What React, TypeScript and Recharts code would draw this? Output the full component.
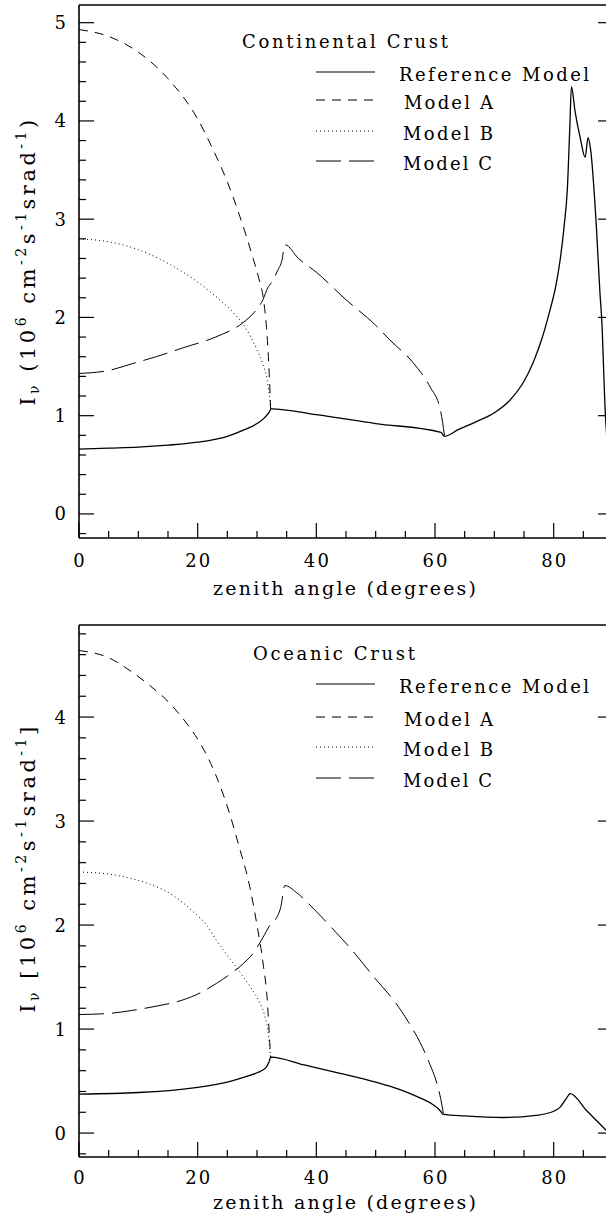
import React from 'react';
import { LineChart, Line, XAxis, YAxis, Legend } from 'recharts';

const FONT = '"DejaVu Serif", "Liberation Serif", serif';

// axis ticks
const xTicks = [0, 5, 10, 15, 20, 25, 30, 35, 40, 45, 50, 55, 60, 65, 70, 75, 80, 85, 90];
const xLabelTicks = [0, 20, 40, 60, 80];
const contYTicks = Array.from({ length: 27 }, (_, i) => Math.round((i - 1) * 2) / 10); // -0.2 .. 5.0
const oceanYTicks = Array.from({ length: 26 }, (_, i) => Math.round((i - 1) * 2) / 10); // -0.2 .. 4.8

const seriesNames = ['Reference Model', 'Model A', 'Model B', 'Model C'];
const seriesDash = ['', '9 7', '1 3', '25 8'];
const legendLabelX = [399, 404, 403, 403];
const legendLabelW = [190, 89, 90, 89];

// continental crust  [zenith angle, intensity]
const contRef = [
  [0, 0.66], [5, 0.67], [10, 0.68], [15, 0.7], [20, 0.73], [25, 0.79], [28, 0.86], [30, 0.92],
  [31.3, 0.98], [32, 1.03], [32.4, 1.07], [40, 1.01], [50, 0.92], [61, 0.83], [61.6, 0.79],
  [64, 0.86], [67, 0.94], [70, 1.03], [72.5, 1.15], [75, 1.35], [76.6, 1.55], [78, 1.78],
  [79.4, 2.08], [80.3, 2.3], [81.1, 2.59], [81.8, 2.95], [82.3, 3.3], [82.7, 3.9], [83, 4.35],
  [83.6, 4.1], [84.5, 3.82], [85.3, 3.63], [85.8, 3.83], [86.2, 3.72], [87.2, 2.92], [87.8, 2.25],
  [88.1, 1.98], [88.7, 1.03], [89.3, 0.55], [90, 0.2],
];
const contA = [
  [0, 4.93], [5, 4.86], [10, 4.7], [15, 4.43], [20, 4.02], [22.5, 3.72], [25, 3.38], [27.1, 3.03],
  [29.4, 2.59], [30.3, 2.4], [31.1, 2.18], [31.6, 1.9], [32, 1.5], [32.3, 1.07],
];
const contB = [
  [0, 2.8], [5, 2.77], [10, 2.69], [15, 2.55], [20, 2.36], [23.5, 2.19], [26, 2.05], [28, 1.9],
  [30, 1.67], [31, 1.52], [31.7, 1.37], [32.1, 1.2], [32.3, 1.07],
];
const contC = [
  [0, 1.43], [5, 1.46], [9, 1.53], [13, 1.6], [17.5, 1.69], [23, 1.8], [27.5, 1.94], [29.5, 2.05],
  [31, 2.18], [31.8, 2.3], [32.5, 2.36], [33.5, 2.48], [34.2, 2.58], [34.7, 2.74], [37, 2.6],
  [40, 2.46], [45, 2.18], [50, 1.92], [52.4, 1.77], [56.3, 1.54], [59.2, 1.29], [60.9, 1.06], [61.6, 0.8],
];

// oceanic crust
const oceanRef = [
  [0, 0.375], [10, 0.39], [20, 0.44], [25, 0.49], [28, 0.54], [30, 0.58], [31.5, 0.63], [32, 0.68],
  [32.3, 0.73], [38, 0.655], [44, 0.575], [50, 0.49], [54, 0.42], [57, 0.35], [59.5, 0.28],
  [60.8, 0.22], [61.4, 0.18], [65, 0.165], [71.5, 0.15], [77, 0.17], [80, 0.21], [81.1, 0.25],
  [82.1, 0.33], [82.8, 0.38], [85.5, 0.22], [88.8, 0.03], [90, -0.04],
];
const oceanA = [
  [0, 4.64], [5, 4.57], [9, 4.43], [12, 4.3], [15, 4.15], [18, 3.95], [20.4, 3.75], [23, 3.45],
  [25.5, 3.05], [27, 2.75], [28.5, 2.44], [30, 2.0], [31.1, 1.6], [31.7, 1.3], [32, 1.02], [32.3, 0.73],
];
const oceanB = [
  [0, 2.51], [5, 2.49], [10, 2.43], [13, 2.37], [16, 2.28], [19, 2.14], [21.5, 2.0], [23.2, 1.85],
  [25.5, 1.67], [27.7, 1.5], [29.5, 1.35], [30.5, 1.25], [31.3, 1.13], [31.8, 1.0], [32.1, 0.85], [32.3, 0.73],
];
const oceanC = [
  [0, 1.14], [5, 1.15], [9, 1.18], [13, 1.22], [17.5, 1.28], [20.5, 1.35], [23.2, 1.44], [25.5, 1.53],
  [27.7, 1.63], [29.5, 1.74], [31, 1.88], [32.2, 2.0], [33.3, 2.07], [34, 2.17], [34.7, 2.38],
  [36.7, 2.31], [40, 2.13], [43.3, 1.93], [45.7, 1.78], [50, 1.48], [53, 1.28], [55.5, 1.07],
  [57.5, 0.87], [59, 0.68], [60.3, 0.48], [61, 0.32], [61.4, 0.19],
];

const toPts = (a: number[][]) => a.map(([x, y]) => ({ x, y }));

const isMajorY = (v: number) => Math.abs(v - Math.round(v)) < 1e-6;

// ticks drawn inward, like the original box
const BottomTick = (p: any) => {
  const v = p.payload.value;
  const major = xLabelTicks.includes(v);
  return (
    <g>
      <line x1={p.x} x2={p.x} y1={p.y} y2={p.y - (major ? 15 : 7)} stroke="#000" strokeWidth={1.2} />
      {major && (
        <text x={p.x} y={p.y + p.labelDy} textAnchor="middle" fontFamily={FONT} fontSize={18} fill="#000"
          textLength={v === 0 ? 10 : 25} lengthAdjust="spacing">{v}</text>
      )}
    </g>
  );
};
const TopTick = (p: any) => {
  const major = xLabelTicks.includes(p.payload.value);
  return <line x1={p.x} x2={p.x} y1={p.y} y2={p.y + (major ? 15 : 7)} stroke="#000" strokeWidth={1.2} />;
};
const LeftTick = (p: any) => {
  const v = p.payload.value;
  const major = isMajorY(v);
  return (
    <g>
      <line x1={p.x} x2={p.x + (major ? 15 : 7)} y1={p.y} y2={p.y} stroke="#000" strokeWidth={1.2} />
      {major && (
        <text x={p.x - 13} y={p.y + 6.5} textAnchor="end" fontFamily={FONT} fontSize={18} fill="#000">
          {Math.round(v)}
        </text>
      )}
    </g>
  );
};
const RightTick = (p: any) => {
  const major = isMajorY(p.payload.value);
  return <line x1={p.x} x2={p.x - (major ? 15 : 7)} y1={p.y} y2={p.y} stroke="#000" strokeWidth={1.2} />;
};

const YTitle = ({ cy, open, close }: any) => (
  <text transform={`translate(35,${cy}) rotate(-90)`} textAnchor="middle" fontFamily={FONT}
    fontSize={21} letterSpacing={3.5} fill="#000">
    <tspan>I</tspan>
    <tspan fontSize={14} dy={4}>ν</tspan>
    <tspan dy={-4}>{` ${open}10`}</tspan>
    <tspan fontSize={14} dy={-9}>6</tspan>
    <tspan dy={9}> cm</tspan>
    <tspan fontSize={14} dy={-9}>-2</tspan>
    <tspan dy={9}>s</tspan>
    <tspan fontSize={14} dy={-9}>-1</tspan>
    <tspan dy={9}>srad</tspan>
    <tspan fontSize={14} dy={-9}>-1</tspan>
    <tspan dy={9}>{close}</tspan>
  </text>
);

const XTitle = ({ ty }: any) => (
  <text x={344.5} y={ty} textAnchor="middle" fontFamily={FONT}
    fontSize={19} fill="#000" textLength={263} lengthAdjust="spacing">
    zenith angle (degrees)
  </text>
);

const LegendBox = ({ title, titleX, titleW, rows }: any) => (
  <svg width={640} height={200} style={{ display: 'block' }}>
    <text x={titleX} y={48} fontFamily={FONT} fontSize={18} fill="#000" textLength={titleW} lengthAdjust="spacing">
      {title}
    </text>
    {seriesNames.map((n, i) => (
      <g key={n}>
        <line x1={316} x2={375} y1={rows[i]} y2={rows[i]} stroke="#000" strokeWidth={1}
          strokeDasharray={seriesDash[i] || undefined} />
        <text x={legendLabelX[i]} y={rows[i] + 9} fontFamily={FONT} fontSize={18} fill="#000"
          textLength={legendLabelW[i]} lengthAdjust="spacing">{n}</text>
      </g>
    ))}
  </svg>
);

interface PanelProps {
  title: string;
  titleX: number;
  titleW: number;
  yDomain: [number, number];
  yTicks: number[];
  series: number[][][];
  height: number;
  marginTop: number;
  bottomAxisHeight: number;
  legendRows: number[];
  yTitleCy: number;
  xTitleY: number;
  tickLabelDy: number;
  brackets: [string, string];
}

const Panel: React.FC<PanelProps> = (p) => (
  <LineChart width={640} height={p.height} margin={{ top: p.marginTop, right: 26, bottom: 0, left: 0 }}>
    <XAxis dataKey="x" type="number" domain={[0, 90]} ticks={xTicks} interval={0} allowDataOverflow
      height={p.bottomAxisHeight} tickSize={0} tickMargin={0} tickLine={false}
      axisLine={{ stroke: '#000', strokeWidth: 1.6 }}
      tick={(t: any) => <BottomTick {...t} labelDy={p.tickLabelDy} />}
      label={<XTitle ty={p.xTitleY} />} />
    <XAxis xAxisId="top" orientation="top" type="number" domain={[0, 90]} ticks={xTicks} interval={0}
      allowDataOverflow height={1} tickSize={0} tickMargin={0} tickLine={false}
      axisLine={{ stroke: '#000', strokeWidth: 1.6 }} tick={(t: any) => <TopTick {...t} />} />
    <YAxis type="number" domain={p.yDomain} ticks={p.yTicks} interval={0} allowDataOverflow width={79}
      tickSize={0} tickMargin={0} tickLine={false} axisLine={{ stroke: '#000', strokeWidth: 1.6 }}
      tick={(t: any) => <LeftTick {...t} />}
      label={<YTitle cy={p.yTitleCy} open={p.brackets[0]} close={p.brackets[1]} />} />
    <YAxis yAxisId="right" orientation="right" type="number" domain={p.yDomain} ticks={p.yTicks}
      interval={0} allowDataOverflow width={1} tickSize={0} tickMargin={0} tickLine={false}
      axisLine={{ stroke: '#000', strokeWidth: 1.6 }} tick={(t: any) => <RightTick {...t} />} />
    <Legend layout="horizontal" verticalAlign="middle" align="center" wrapperStyle={{ left: 0, top: 0 }}
      content={() => <LegendBox title={p.title} titleX={p.titleX} titleW={p.titleW} rows={p.legendRows} />} />
    {p.series.map((s, i) => (
      <Line key={seriesNames[i]} name={seriesNames[i]} data={toPts(s)} dataKey="y" type="monotone"
        stroke="#000" strokeWidth={i === 0 ? 1.3 : 1} strokeDasharray={seriesDash[i] || undefined}
        dot={false} activeDot={false} isAnimationActive={false} />
    ))}
  </LineChart>
);

export default function App() {
  return (
    <div style={{ position: 'absolute', left: 0, top: 0, width: 606, height: 1225, overflow: 'hidden', background: '#fff' }}>
      <Panel title="Continental Crust" titleX={242} titleW={206} yDomain={[-0.245, 5.18]} yTicks={contYTicks}
        series={[contRef, contA, contB, contC]} height={612} marginTop={4} bottomAxisHeight={74}
        legendRows={[72, 100, 131, 161]} yTitleCy={261} xTitleY={595} tickLabelDy={29} brackets={['(', ')']} />
      <Panel title="Oceanic Crust" titleX={253} titleW={162} yDomain={[-0.23, 4.885]} yTicks={oceanYTicks}
        series={[oceanRef, oceanA, oceanB, oceanC]} height={613} marginTop={12} bottomAxisHeight={68}
        legendRows={[72, 105, 135, 166]} yTitleCy={256} xTitleY={597} tickLabelDy={27} brackets={['[', ']']} />
    </div>
  );
}
